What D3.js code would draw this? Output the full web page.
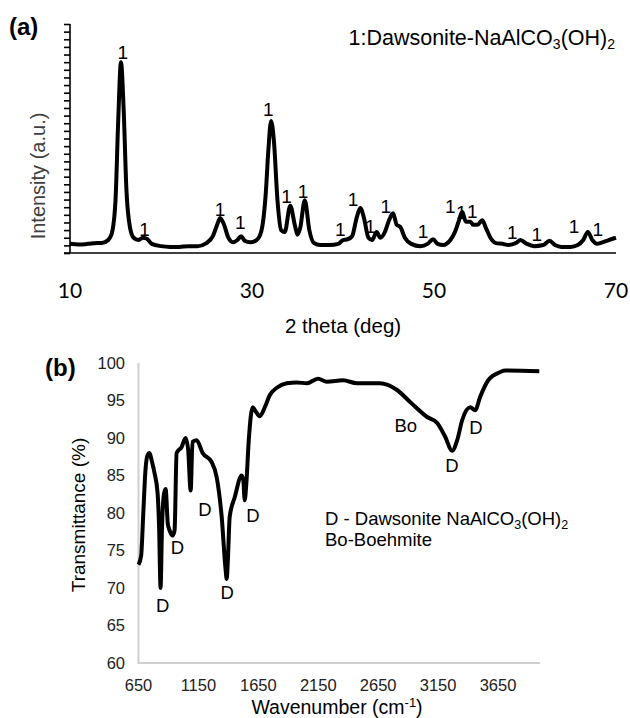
<!DOCTYPE html>
<html><head><meta charset="utf-8">
<script src="https://cdn.jsdelivr.net/npm/d3@7"></script>
<style>
html,body{margin:0;padding:0;background:#fff;}
svg{display:block;}
text{font-family:"Liberation Sans",Arial,sans-serif;}
</style></head>
<body>
<svg id="chart" width="630" height="718"></svg>
<script>
// ---------- (a) XRD ----------
const xrdTheta = [10,11,12,13,13.5,14.2,14.6,15.0,15.3,15.6,15.9,16.2,16.6,17.0,17.5,18.0,18.4,19.0,20,21,22,23,24,25.0,25.7,26.2,26.5,26.9,27.4,27.9,28.4,28.8,29.2,29.8,30.5,31.0,31.5,31.8,32.1,32.4,32.8,33.2,33.6,34.2,34.7,35.0,35.3,35.8,36.3,36.8,37.5,38.5,39.5,40.0,40.5,41.0,41.5,41.9,42.3,42.8,43.2,43.7,44.1,44.6,45.0,45.5,45.9,46.3,46.8,47.5,48.5,49.3,49.9,50.4,51.0,51.8,52.3,52.7,53.1,53.5,54.0,54.3,54.8,55.3,55.7,56.2,56.8,57.5,58.2,59.0,59.5,60.2,61.0,62.0,62.7,63.3,64.0,65.0,65.8,66.4,66.9,67.4,67.9,68.5,69.2,70.0];
const xrdIntensity = [1.2,1.1,1.2,1.3,1.3,1.7,2.6,6.9,17.4,25.0,18.7,8.3,3.3,2.0,1.7,2.0,1.9,1.2,0.9,0.8,0.8,0.9,0.9,1.3,2.2,3.8,4.6,3.8,2.0,1.4,1.7,2.2,1.6,1.4,1.7,2.75,7.6,13.5,17.3,14.8,6.9,3.0,2.75,6.2,3.7,2.4,3.3,6.9,3.0,1.3,1.05,1.05,1.2,1.7,1.8,2.2,4.6,5.9,4.6,2.0,1.7,2.75,2.0,2.75,4.1,5.2,3.7,3.4,2.0,1.2,0.9,1.2,1.8,1.2,1.05,1.7,2.75,4.1,5.4,4.1,4.1,3.7,3.7,4.3,3.3,2.0,1.3,1.2,1.05,1.3,1.7,1.2,0.9,1.05,1.6,1.05,0.8,0.8,1.05,1.7,2.75,1.7,1.2,1.4,1.7,2.0];
const xrdTicks = [10,30,50,70];
const xrdLabelTheta = [15.8,18.2,26.5,28.7,31.8,33.8,35.6,39.7,41.1,43.0,44.7,48.8,51.8,53.0,54.2,58.6,61.3,65.4,68.0];
const xrdLabelLevel = [25.4,2.2,4.85,3.1,17.9,6.55,7.2,2.2,6.15,2.6,5.25,1.95,5.25,4.45,4.6,1.8,1.6,2.6,2.2];

// ---------- (b) FTIR ----------
const irWavenumber = [650,672,690,709,725,742,760,784,809,822,834,846,862,876,895,909,934,951,968,1010,1043,1064,1085,1101,1135,1185,1260,1302,1344,1377,1386,1395,1411,1453,1511,1525,1536,1550,1570,1603,1630,1662,1704,1745,1804,1887,1970,2055,2147,2222,2356,2473,2665,2807,2916,3058,3142,3208,3267,3309,3351,3418,3459,3501,3568,3668,3710,3994];
const irTransmittance = [73.1,74.3,80.0,85.9,87.7,88.0,87.0,85.3,82.7,78.0,70.0,78.0,82.5,83.2,78.5,77.7,77.0,77.7,88.0,88.8,90.0,88.5,83.0,89.5,89.7,88.0,86.8,84.8,79.5,72.4,71.2,73.5,79.5,82.1,85.0,84.3,81.7,84.0,89.7,94.1,93.5,92.9,94.1,95.7,96.7,97.3,97.4,97.3,97.9,97.5,97.7,97.3,97.3,96.4,94.8,92.8,92.0,90.2,88.3,89.7,92.4,94.1,93.7,95.5,97.7,98.8,99.0,98.9];
const irXTicks = [650,1150,1650,2150,2650,3150,3650];
const irYTicks = [60,65,70,75,80,85,90,95,100];
const irLabelText = ["D","D","D","D","D","Bo","D","D"];
const irLabelWn = [852,975,1205,1390,1605,2880,3265,3465];
const irLabelT = [66.8,74.5,79.6,68.5,78.8,90.8,85.5,90.5];

const svg = d3.select("#chart");

// ===== panel (a) =====
const xa = d3.scaleLinear().domain([10,70]).range([70,616]);
const ya = d3.scaleLinear().domain([0,30]).range([253,24]);

const yAxisA = d3.axisLeft(ya).tickValues(d3.range(0,31,1)).tickSize(6).tickFormat("");
const gya = svg.append("g").attr("transform","translate(70,0)").call(yAxisA);
gya.selectAll("path,line").attr("stroke","#000").attr("stroke-width",1.6);
gya.select(".domain").attr("d","M0,"+ya(30)+"V"+ya(0));

svg.append("line").attr("x1",64).attr("x2",xa(70)).attr("y1",ya(0)).attr("y2",ya(0))
  .attr("stroke","#000").attr("stroke-width",1.6);

svg.append("g").selectAll("text").data(xrdTicks).join("text")
  .attr("x",d=>xa(d)).attr("y",298).attr("text-anchor","middle")
  .style("font-family","Lato, 'Open Sans', sans-serif").style("font-size","21px").attr("fill","#000")
  .text(d=>d);

const xrdData = xrdTheta.map((t,i)=>[t,xrdIntensity[i]]);
svg.append("path").datum(xrdData)
  .attr("d", d3.line().x(d=>xa(d[0])).y(d=>ya(d[1])).curve(d3.curveMonotoneX))
  .attr("fill","none").attr("stroke","#000").attr("stroke-width",4).attr("stroke-linejoin","round");

svg.append("g").selectAll("text").data(xrdLabelTheta).join("text")
  .attr("x",d=>xa(d)).attr("y",(d,i)=>ya(xrdLabelLevel[i])).attr("text-anchor","middle")
  .style("font-size","19px").attr("fill","#000").text("1");

const leg = svg.append("text").attr("x",615).attr("y",45).attr("text-anchor","end")
  .style("font-size","21.5px").attr("fill","#000");
leg.append("tspan").text("1:Dawsonite-NaAlCO");
leg.append("tspan").attr("dy",4).style("font-size","14px").text("3");
leg.append("tspan").attr("dy",-4).text("(OH)");
leg.append("tspan").attr("dy",4).style("font-size","14px").text("2");

svg.append("text").attr("x",9).attr("y",35).style("font-size","24px").style("font-weight","bold").text("(a)");
svg.append("text").attr("transform","translate(45,176) rotate(-90)").attr("text-anchor","middle")
  .style("font-size","20px").attr("fill","#404040").text("Intensity (a.u.)");
svg.append("text").attr("x",343).attr("y",333).attr("text-anchor","middle")
  .style("font-size","20.5px").attr("fill","#000").text("2 theta (deg)");

// ===== panel (b) =====
const xb = d3.scaleLinear().domain([650,4000]).range([138.5,540]);
const yb = d3.scaleLinear().domain([60,100]).range([663,363]);

svg.append("line").attr("x1",xb(650)).attr("x2",xb(650)).attr("y1",yb(100)).attr("y2",yb(60))
  .attr("stroke","#d0d0d0").attr("stroke-width",2);
svg.append("line").attr("x1",xb(650)-1).attr("x2",xb(4000)).attr("y1",yb(60)).attr("y2",yb(60))
  .attr("stroke","#d0d0d0").attr("stroke-width",2);

svg.append("g").selectAll("text").data(irYTicks).join("text")
  .attr("x",125).attr("y",d=>yb(d)).attr("dy","0.36em").attr("text-anchor","end")
  .style("font-size","16.5px").attr("fill","#222").text(d=>d);
svg.append("g").selectAll("text").data(irXTicks).join("text")
  .attr("x",d=>xb(d)).attr("y",691).attr("text-anchor","middle")
  .style("font-size","16.5px").attr("fill","#222").text(d=>d);

const irData = irWavenumber.map((w,i)=>[w,irTransmittance[i]]);
svg.append("path").datum(irData)
  .attr("d", d3.line().x(d=>xb(d[0])).y(d=>yb(d[1])).curve(d3.curveMonotoneX))
  .attr("fill","none").attr("stroke","#000").attr("stroke-width",4).attr("stroke-linejoin","round");

svg.append("g").selectAll("text").data(irLabelWn).join("text")
  .attr("x",d=>xb(d)).attr("y",(d,i)=>yb(irLabelT[i])).attr("text-anchor","middle")
  .style("font-size","18.5px").attr("fill","#000").text((d,i)=>irLabelText[i]);

const ann = svg.append("text").attr("x",325).attr("y",525).style("font-size","18.5px").attr("fill","#000");
ann.append("tspan").text("D - Dawsonite NaAlCO");
ann.append("tspan").attr("dy",4).style("font-size","12.5px").text("3");
ann.append("tspan").attr("dy",-4).text("(OH)");
ann.append("tspan").attr("dy",4).style("font-size","12.5px").text("2");
svg.append("text").attr("x",325).attr("y",546).style("font-size","18.5px").attr("fill","#000").text("Bo-Boehmite");

svg.append("text").attr("x",45).attr("y",376).style("font-size","24px").style("font-weight","bold").text("(b)");
svg.append("text").attr("transform","translate(85,515) rotate(-90)").attr("text-anchor","middle")
  .style("font-size","19px").attr("fill","#000").text("Transmittance (%)");
const xt = svg.append("text").attr("x",337).attr("y",714).attr("text-anchor","middle")
  .style("font-size","19.5px").attr("fill","#000");
xt.append("tspan").text("Wavenumber (cm");
xt.append("tspan").attr("dy",-7).style("font-size","13px").text("-1");
xt.append("tspan").attr("dy",7).text(")");
</script>
</body></html>
